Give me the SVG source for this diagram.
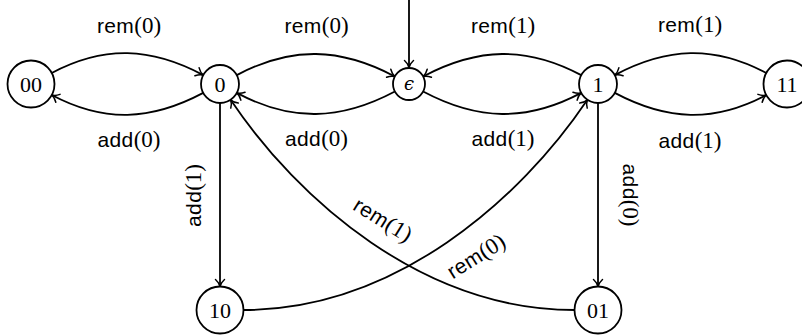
<svg xmlns="http://www.w3.org/2000/svg" width="802" height="335" viewBox="0 0 802 335">
<style>
.node circle{fill:#fff;stroke:#000;stroke-width:1.8}
.nl{font-family:"Liberation Serif",serif;font-size:22px;text-anchor:middle;fill:#000}
.edge{fill:none;stroke:#000;stroke-width:1.8;marker-end:url(#arr)}
.lab{font-size:21px;text-anchor:middle;fill:#000}
.sf{font-family:"Liberation Sans",Arial,sans-serif;letter-spacing:0.4px}
.rm{font-family:"Liberation Serif",serif;font-size:23px}
</style>
<defs>
<marker id="arr" markerUnits="userSpaceOnUse" viewBox="-9 -6 11 12" refX="0" refY="0" markerWidth="11" markerHeight="12" orient="auto">
<path d="M-7,-4.5 C-4.5,-1.7 -1.7,-0.4 0,0 C-1.7,0.4 -4.5,1.7 -7,4.5" fill="none" stroke="#000" stroke-width="1.5" stroke-linecap="round"/>
</marker>
</defs>
<g id="connectors">
<path class="edge" d="M409,0 L409,67.5"/>
<path class="edge" d="M51.75,72.98 C104.11,45.17 150.86,47.28 203.22,75.09"/>
<path class="edge" d="M203.22,92.91 C150.86,120.72 104.11,122.83 51.75,95.02"/>
<path class="edge" d="M236.78,75.09 C291.44,46.06 340.21,47.47 394.87,76.5"/>
<path class="edge" d="M394.87,91.5 C340.21,120.53 291.44,121.94 236.78,92.91"/>
<path class="edge" d="M581.22,75.09 C526.56,46.06 477.79,47.47 423.13,76.5"/>
<path class="edge" d="M423.13,91.5 C477.79,120.53 526.56,121.94 581.22,92.91"/>
<path class="edge" d="M766.25,72.98 C713.89,45.17 667.14,47.28 614.78,75.09"/>
<path class="edge" d="M614.78,92.91 C667.14,120.72 713.89,122.83 766.25,95.02"/>
<path class="edge" d="M220,103 L220,286.5"/>
<path class="edge" d="M598,103 L598,286.5"/>
<path class="edge" d="M243.5,310 C395,310 520,200 587.4,99.8"/>
<path class="edge" d="M574.5,310 C423,310 298,200 230.6,99.8"/>
</g>
<g id="labels">
<text class="lab" x="129" y="33"><tspan class="sf">rem</tspan><tspan class="rm">(0)</tspan></text>
<text class="lab" x="129" y="147"><tspan class="sf">add</tspan><tspan class="rm">(0)</tspan></text>
<text class="lab" x="316.5" y="33"><tspan class="sf">rem</tspan><tspan class="rm">(0)</tspan></text>
<text class="lab" x="316.5" y="146"><tspan class="sf">add</tspan><tspan class="rm">(0)</tspan></text>
<text class="lab" x="503" y="33"><tspan class="sf">rem</tspan><tspan class="rm">(1)</tspan></text>
<text class="lab" x="503" y="146"><tspan class="sf">add</tspan><tspan class="rm">(1)</tspan></text>
<text class="lab" x="690" y="32"><tspan class="sf">rem</tspan><tspan class="rm">(1)</tspan></text>
<text class="lab" x="690" y="147.5"><tspan class="sf">add</tspan><tspan class="rm">(1)</tspan></text>
<text class="lab" transform="translate(200.5,195.5) rotate(-90)"><tspan class="sf">add</tspan><tspan class="rm">(1)</tspan></text>
<text class="lab" transform="translate(622.5,195) rotate(90)"><tspan class="sf">add</tspan><tspan class="rm">(0)</tspan></text>
<text class="lab" transform="translate(379,226) rotate(32)"><tspan class="sf">rem</tspan><tspan class="rm">(1)</tspan></text>
<text class="lab" transform="translate(480,262.5) rotate(-32)"><tspan class="sf">rem</tspan><tspan class="rm">(0)</tspan></text>
</g>
<g id="n00" class="node"><circle cx="31" cy="84" r="23.5"/><text class="nl" x="31" y="91.5">00</text></g>
<g id="n0" class="node"><circle cx="220" cy="84" r="19"/><text class="nl" x="220" y="91.5">0</text></g>
<g id="neps" class="node"><circle cx="409" cy="84" r="16"/><text x="409" y="89.5" style="font-family:'DejaVu Serif',serif;font-style:italic;font-size:18px;text-anchor:middle">ϵ</text></g>
<g id="n1" class="node"><circle cx="598" cy="84" r="19"/><text class="nl" x="598" y="91.5">1</text></g>
<g id="n11" class="node"><circle cx="787" cy="84" r="23.5"/><text class="nl" x="787" y="91.5">11</text></g>
<g id="n10" class="node"><circle cx="220" cy="310" r="23.5"/><text class="nl" x="220" y="317.5">10</text></g>
<g id="n01" class="node"><circle cx="598" cy="310" r="23.5"/><text class="nl" x="598" y="317.5">01</text></g>
</svg>
